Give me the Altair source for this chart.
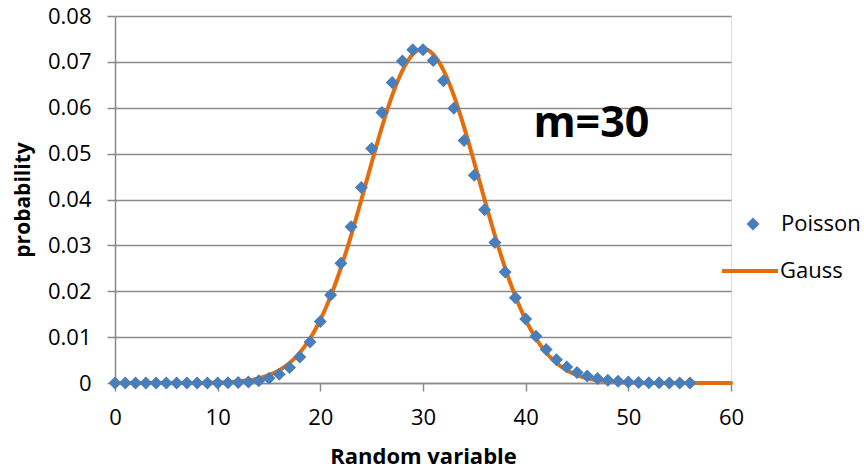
import altair as alt
import pandas as pd

# Poisson probabilities, m = 30, k = 0..56
k_vals = list(range(57))
poisson_vals = [
    0.0, 0.0, 0.0, 0.0, 0.0, 0.0, 0.0, 0.0, 0.0, 0.000001,
    0.000015, 0.000042, 0.000104, 0.000240, 0.000514, 0.00103, 0.00193, 0.00340, 0.00566, 0.00894,
    0.01341, 0.01916, 0.02612, 0.03407, 0.04259, 0.05111, 0.05898, 0.06553, 0.07021, 0.07263,
    0.07263, 0.07029, 0.06590, 0.05991, 0.05286, 0.04531, 0.03776, 0.03061, 0.02417, 0.01859,
    0.01394, 0.01020, 0.00729, 0.00508, 0.00347, 0.00231, 0.00151, 0.000963, 0.000602, 0.000369,
    0.000221, 0.000130, 0.000075, 0.000043, 0.000024, 0.000013, 0.000007,
]

# Gauss curve, x = 0..60
g_x = list(range(61))
gauss_vals = [
    0.0, 0.0, 0.0, 0.0, 0.0, 0.0, 0.000001, 0.000002, 0.000008, 0.000027,
    0.00009, 0.00018, 0.00033, 0.00059, 0.00102, 0.00171, 0.00278, 0.00436, 0.00661, 0.00970,
    0.01376, 0.01888, 0.02507, 0.03219, 0.03998, 0.04802, 0.05579, 0.06269, 0.06814, 0.07164,
    0.07284, 0.07164, 0.06814, 0.06269, 0.05579, 0.04802, 0.03998, 0.03219, 0.02507, 0.01888,
    0.01376, 0.00970, 0.00661, 0.00436, 0.00278, 0.00171, 0.00102, 0.00059, 0.00033, 0.00018,
    0.00009, 0.000027, 0.000008, 0.000002, 0.000001, 0.0, 0.0, 0.0, 0.0, 0.0, 0.0,
]

x_ticks = [0, 10, 20, 30, 40, 50, 60]
y_ticks = [0, 0.01, 0.02, 0.03, 0.04, 0.05, 0.06, 0.07, 0.08]

note_text = ["m=30"]
note_x = [46.4]
note_y = [0.0565]

df_p = pd.DataFrame({"k": k_vals, "p": poisson_vals, "series": "Poisson"})
df_g = pd.DataFrame({"k": g_x, "p": gauss_vals, "series": "Gauss"})
df_note = pd.DataFrame({"k": note_x, "p": note_y, "t": note_text})

GRAY = "#8a8a8a"
BLUE = "#4A7EBB"
ORANGE = "#E46C0A"
FONT = "Open Sans"

x_enc = alt.X(
    "k:Q",
    scale=alt.Scale(domain=[0, 60], nice=False),
    axis=alt.Axis(
        values=x_ticks, grid=False, domain=True, domainColor=GRAY, domainWidth=1.5,
        ticks=True, tickSize=8, tickColor=GRAY, tickWidth=1.5, labelFlush=False,
        labelFontSize=22, labelFont=FONT, labelColor="#000000", labelPadding=16,
        title="Random variable", titleFont=FONT, titleFontSize=22, titleFontWeight="bold",
        titleColor="#000000", titlePadding=18,
    ),
)
y_enc = alt.Y(
    "p:Q",
    scale=alt.Scale(domain=[0, 0.08], nice=False),
    axis=alt.Axis(
        values=y_ticks, format="~g", grid=True, gridColor=GRAY, gridWidth=1.5,
        domain=True, domainColor=GRAY, domainWidth=1.5, labelFlush=False,
        ticks=True, tickSize=8, tickColor=GRAY, tickWidth=1.5,
        labelFontSize=22, labelFont=FONT, labelColor="#000000", labelPadding=16,
        title="probability", titleFont=FONT, titleFontSize=21, titleFontWeight="bold",
        titleColor="#000000", titlePadding=14,
    ),
)

line = alt.Chart(df_g).mark_line(strokeWidth=4, interpolate="monotone", strokeCap="round").encode(
    x=x_enc,
    y=y_enc,
    stroke=alt.Stroke(
        "series:N",
        scale=alt.Scale(domain=["Gauss"], range=[ORANGE]),
        legend=alt.Legend(
            orient="none", legendX=605, legendY=225, title=None,
            symbolType="stroke", symbolSize=3136, symbolStrokeWidth=4,
            labelFont=FONT, labelFontSize=22, labelColor="#000000", labelOffset=0,
        ),
    ),
)

points = alt.Chart(df_p).mark_point(shape="diamond", filled=True, size=169, opacity=1, strokeWidth=0).encode(
    x=alt.X("k:Q"),
    y=alt.Y("p:Q"),
    fill=alt.Fill(
        "series:N",
        scale=alt.Scale(domain=["Poisson"], range=[BLUE]),
        legend=alt.Legend(
            orient="none", legendX=627, legendY=197, title=None,
            symbolType="diamond", symbolSize=169, symbolStrokeWidth=0,
            labelFont=FONT, labelFontSize=22, labelColor="#000000", labelOffset=17,
        ),
    ),
)

note = alt.Chart(df_note).mark_text(
    font=FONT, fontSize=43, fontWeight="bold", color="#000000", align="center", baseline="middle"
).encode(x="k:Q", y="p:Q", text="t:N")

chart = alt.layer(line, points, note).resolve_scale(fill="independent", stroke="independent").properties(
    width=616,
    height=367,
    autosize=alt.AutoSizeParams(type="none"),
    padding={"left": 115, "top": 16, "right": 133, "bottom": 89},
).configure_view(stroke=None).configure(background="white")

chart.save("out.html", embed_options={"renderer": "svg", "actions": False})
